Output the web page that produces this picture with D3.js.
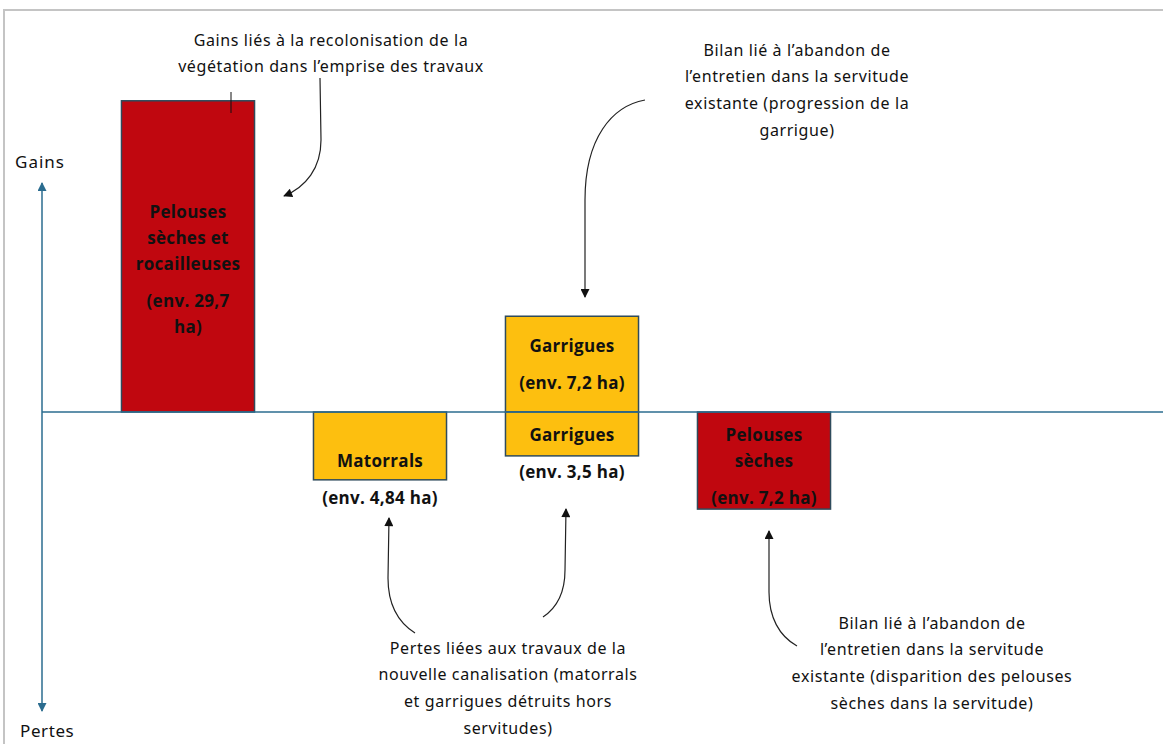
<!DOCTYPE html>
<html>
<head>
<meta charset="utf-8">
<script src="https://cdn.jsdelivr.net/npm/d3@7"></script>
<style>
  body { margin: 0; background: #fff; }
  svg { display: block; }
</style>
</head>
<body>
<svg id="bilan" width="1163" height="744"></svg>
<script>
// habitats, one column each
var categories = ["Pelouses sèches et rocailleuses", "Matorrals", "Garrigues", "Pelouses sèches"];
var habitatType = ["pelouse", "matorral", "garrigue", "pelouse"];

// bar extents as drawn on the schematic (not to scale with the ha values)
var gains = [23.4, 0, 7.2, 0];
var losses = [0, 5.1, 3.3, 7.3];

// text in the bars ("" = empty line of the original text box)
var gainNames = [["", "Pelouses", "sèches et", "rocailleuses"], [], ["Garrigues"], []];
var gainAreas = [["(env. 29,7", "ha)"], [], ["(env. 7,2 ha)"], []];
var lossNames = [[], ["", "Matorrals"], ["Garrigues"], ["Pelouses", "sèches"]];
var lossAreas = [[], ["(env. 4,84 ha)"], ["(env. 3,5 ha)"], ["(env. 7,2 ha)"]];

var notes = [
    ["Gains liés à la recolonisation de la", "végétation dans l’emprise des travaux"],
    ["Bilan lié à l’abandon de", "l’entretien dans la servitude", "existante (progression de la", "garrigue)"],
    ["Pertes liées aux travaux de la", "nouvelle canalisation (matorrals", "et garrigues détruits hors", "servitudes)"],
    ["Bilan lié à l’abandon de", "l’entretien dans la servitude", "existante (disparition des pelouses", "sèches dans la servitude)"]
];

var svg = d3.select("#bilan");
var blue = "#2b6c8f";
var handFont = "'Noto Sans', sans-serif";
var barFont = "'Open Sans', sans-serif";

var x = d3.scaleBand().domain(categories).range([92, 860]).paddingInner(0.307).paddingOuter(0.1535);
var y = d3.scaleLinear().domain([-25, 25]).range([412 + 25 * 13.3, 412 - 25 * 13.3]);
var color = d3.scaleOrdinal().domain(["pelouse", "matorral", "garrigue"]).range(["#c0070f", "#fdbf0f", "#fdbf0f"]);

// grey frame
svg.append("path").attr("d", "M4,744 L4,10 L1163,10").attr("fill", "none")
    .attr("stroke", "#c4c4c4").attr("stroke-width", 2);

var defs = svg.append("defs");
var mk = function(id, col){
    defs.append("marker").attr("id", id).attr("viewBox", "0 0 10 10").attr("refX", 9).attr("refY", 5)
        .attr("markerWidth", 10).attr("markerHeight", 9).attr("markerUnits", "userSpaceOnUse")
        .attr("orient", "auto")
        .append("path").attr("d", "M0,0 L10,5 L0,10 z").attr("fill", col);
};
mk("ab", "#111");
mk("ax", blue);

// bars
var cols = categories.map(function(c, i){ return {cat: c, i: i}; });
var g = svg.append("g");
g.selectAll("rect.gain").data(cols.filter(function(d){ return gains[d.i] > 0; })).enter().append("rect")
    .attr("class", "gain")
    .attr("x", function(d){ return x(d.cat); })
    .attr("width", x.bandwidth())
    .attr("y", function(d){ return y(gains[d.i]); })
    .attr("height", function(d){ return y(0) - y(gains[d.i]); })
    .attr("fill", function(d){ return color(habitatType[d.i]); })
    .attr("stroke", "#2f4b5c").attr("stroke-width", 1.5);
g.selectAll("rect.loss").data(cols.filter(function(d){ return losses[d.i] > 0; })).enter().append("rect")
    .attr("class", "loss")
    .attr("x", function(d){ return x(d.cat); })
    .attr("width", x.bandwidth())
    .attr("y", y(0))
    .attr("height", function(d){ return y(-losses[d.i]) - y(0); })
    .attr("fill", function(d){ return color(habitatType[d.i]); })
    .attr("stroke", "#2f4b5c").attr("stroke-width", 1.5);

// baseline + vertical axis
svg.append("line").attr("x1", 42).attr("x2", 1163).attr("y1", y(0)).attr("y2", y(0))
    .attr("stroke", blue).attr("stroke-width", 1.3);
svg.append("line").attr("x1", 42).attr("x2", 42).attr("y1", y(0)).attr("y2", 183)
    .attr("stroke", blue).attr("stroke-width", 1.5).attr("marker-end", "url(#ax)");
svg.append("line").attr("x1", 42).attr("x2", 42).attr("y1", y(0)).attr("y2", 711)
    .attr("stroke", blue).attr("stroke-width", 1.5).attr("marker-end", "url(#ax)");
svg.append("text").attr("x", 15).attr("y", 168).text("Gains")
    .attr("font-family", handFont).attr("font-size", "17px").attr("letter-spacing", "1px").attr("fill", "#111");
svg.append("text").attr("x", 20).attr("y", 737).text("Pertes")
    .attr("font-family", handFont).attr("font-size", "17px").attr("letter-spacing", "0.6px").attr("fill", "#111");

// labels in/under the bars
var lineH = 26, gapH = 11;
var block = function(names, areas){
    var out = [], pos = 0;
    names.forEach(function(t){ out.push({t: t, dy: pos}); pos += lineH; });
    if (names.length && areas.length) pos += gapH;
    areas.forEach(function(t){ out.push({t: t, dy: pos}); pos += lineH; });
    return {lines: out, h: pos - lineH};
};
var barText = function(cx, yy, t){
    svg.append("text").attr("x", cx).attr("y", yy).attr("dy", "0.35em")
        .attr("text-anchor", "middle").attr("font-family", barFont).attr("font-weight", 700)
        .attr("font-size", "17px").attr("letter-spacing", "0.3px").attr("fill", "#111").text(t);
};
categories.forEach(function(c, i){
    var cx = x(c) + x.bandwidth() / 2;
    if (gains[i] > 0) {
        var b = block(gainNames[i], gainAreas[i]);
        var top = (y(gains[i]) + y(0)) / 2 - b.h / 2;
        b.lines.forEach(function(l){ barText(cx, top + l.dy, l.t); });
    }
    if (losses[i] > 0) {
        var b2 = block(lossNames[i], lossAreas[i]);
        b2.lines.forEach(function(l){ barText(cx, y(0) + 23 + l.dy, l.t); });
    }
});

// annotations
var notePos = [[331, 40], [797, 50], [508, 648], [932, 623]];
notes.forEach(function(lines, k){
    var t = svg.append("text").attr("text-anchor", "middle").attr("font-family", handFont)
        .attr("font-size", "16px").attr("letter-spacing", "0.6px").attr("fill", "#111");
    lines.forEach(function(s, j){
        t.append("tspan").attr("x", notePos[k][0]).attr("y", notePos[k][1] + j * 26.7).attr("dy", "0.35em").text(s);
    });
});

var arrows = [
    "M320,78 L321,140 C321,168 306,187 284,196",
    "M645,100 C612,106 585,138 585,200 L585,297",
    "M415,633 C396,621 388,603 388,578 L389,518",
    "M543,617 C558,607 565,592 565,570 L566,509",
    "M797,646 C779,636 769,617 769,592 L769,531"
];
svg.selectAll("path.note").data(arrows).enter().append("path").attr("class", "note")
    .attr("d", function(d){ return d; }).attr("fill", "none").attr("stroke", "#222")
    .attr("stroke-width", 1.2).attr("marker-end", "url(#ab)");
// small stroke at the top of the first bar
svg.append("line").attr("x1", 231).attr("x2", 231).attr("y1", 92).attr("y2", 113)
    .attr("stroke", "#111").attr("stroke-width", 1);
</script>
</body>
</html>
